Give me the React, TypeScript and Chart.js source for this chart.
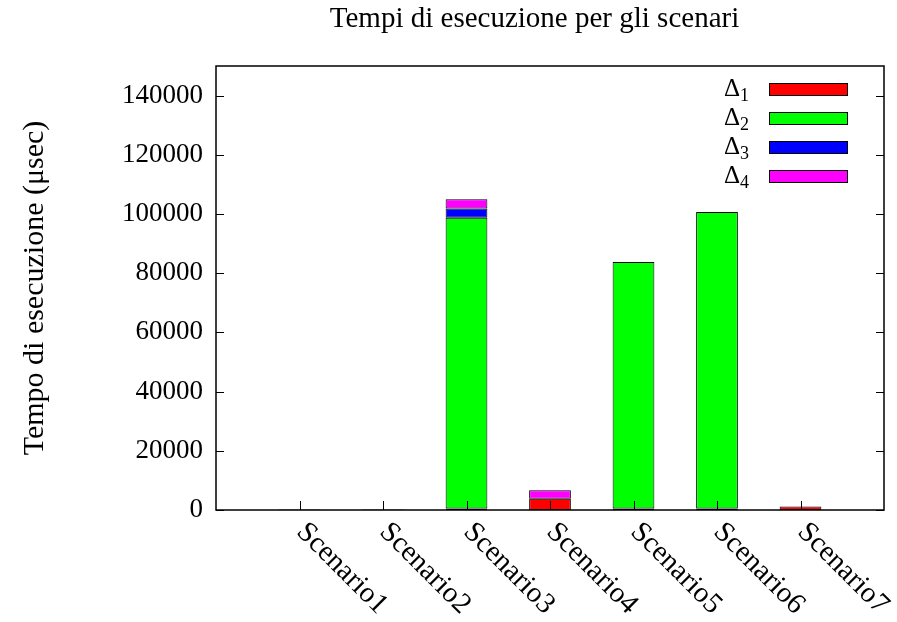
import React, { useEffect, useRef } from "react";
import { Chart, registerables } from "chart.js";

Chart.register(...registerables);

const categories = ["Scenario1", "Scenario2", "Scenario3", "Scenario4", "Scenario5", "Scenario6", "Scenario7"];
const delta1 = [200, 200, 500, 3800, 500, 500, 1200];
const delta2 = [0, 0, 98200, 0, 83300, 100200, 0];
const delta3 = [0, 0, 3200, 0, 0, 0, 0];
const delta4 = [0, 0, 3100, 2900, 0, 0, 0];
const seriesLabels = ["Δ1", "Δ2", "Δ3", "Δ4"];
const seriesColors = ["#ff0000", "#00ff00", "#0000ff", "#ff00ff"];
const yTicks = [0, 20000, 40000, 60000, 80000, 100000, 120000, 140000];
const yMax = 150000;
const chartTitle = "Tempi di esecuzione per gli scenari";
const yTitle = "Tempo di esecuzione (μsec)";

const FONT = "'Liberation Serif', 'Times New Roman', serif";

const decorPlugin = {
  id: "decor",
  afterDraw(chart: any) {
    const { ctx, chartArea } = chart;
    const { left, right, top, bottom } = chartArea;
    const xs = chart.scales.x;
    const ys = chart.scales.y;
    ctx.save();
    // title
    ctx.fillStyle = "#000";
    ctx.font = `29px ${FONT}`;
    ctx.textAlign = "center";
    ctx.textBaseline = "alphabetic";
    ctx.fillText(chartTitle, 534.5, 27);

    // border
    ctx.strokeStyle = "#000";
    ctx.lineWidth = 1.5;
    ctx.strokeRect(left, top, right - left, bottom - top);

    // y ticks (inward, mirrored)
    ctx.lineWidth = 1;
    ys.ticks.forEach((t: any) => {
      const y = Math.round(ys.getPixelForValue(t.value)) + 0.5;
      ctx.beginPath();
      ctx.moveTo(left, y);
      ctx.lineTo(left + 8, y);
      ctx.moveTo(right, y);
      ctx.lineTo(right - 8, y);
      ctx.stroke();
    });

    // x ticks and rotated labels
    ctx.font = `29px ${FONT}`;
    ctx.textAlign = "left";
    ctx.textBaseline = "alphabetic";
    categories.forEach((c, i) => {
      const x = Math.round(xs.getPixelForValue(i + 1)) + 0.5;
      ctx.beginPath();
      ctx.moveTo(x, bottom);
      ctx.lineTo(x, bottom - 9);
      ctx.stroke();
      ctx.save();
      ctx.translate(x - 5, bottom + 23);
      ctx.rotate(Math.PI / 4);
      ctx.fillText(c, 0, 0);
      ctx.restore();
    });

    // legend
    chart.data.datasets.forEach((ds: any, i: number) => {
      const cy = 89.5 + i * 29;
      const label: string = ds.label;
      const main = label.slice(0, 1);
      const sub = label.slice(1);
      ctx.textAlign = "right";
      ctx.font = `18px ${FONT}`;
      const subW = ctx.measureText(sub).width;
      ctx.fillText(sub, 749, cy + 11);
      ctx.font = `25px ${FONT}`;
      ctx.fillText(main, 749 - subW, cy + 6);
      ctx.fillStyle = ds.backgroundColor;
      ctx.fillRect(769, cy - 6.5, 79, 13);
      ctx.strokeStyle = "#000";
      ctx.lineWidth = 1;
      ctx.strokeRect(769.5, cy - 6, 78, 12);
      ctx.fillStyle = "#000";
    });
    ctx.restore();
  },
};

export default function App() {
  const ref = useRef<HTMLCanvasElement>(null);
  useEffect(() => {
    document.body.style.margin = "0";
    const labels = ["", ...categories, ""];
    const series = [delta1, delta2, delta3, delta4];
    const chart = new Chart(ref.current as HTMLCanvasElement, {
      type: "bar",
      data: {
        labels,
        datasets: series.map((s, i) => ({
          label: seriesLabels[i],
          data: [null, ...s, null],
          backgroundColor: seriesColors[i],
          borderColor: "#000",
          borderWidth: 1,
          borderSkipped: false,
          barPercentage: 0.5,
          categoryPercentage: 1,
        })),
      },
      options: {
        animation: false,
        responsive: false,
        devicePixelRatio: 1,
        layout: { padding: { left: 0, right: 13, top: 66, bottom: 0 } },
        plugins: { legend: { display: false }, tooltip: { enabled: false }, title: { display: false } },
        scales: {
          x: {
            type: "category",
            offset: false,
            stacked: true,
            grid: { display: false, drawTicks: false },
            border: { display: false },
            ticks: { display: false },
            afterFit: (s: any) => {
              s.height = 112;
            },
          },
          y: {
            stacked: true,
            min: 0,
            max: yMax,
            grid: { display: false, drawTicks: false },
            border: { display: false },
            afterBuildTicks: (s: any) => {
              s.ticks = yTicks.map((v) => ({ value: v }));
            },
            ticks: {
              padding: 13,
              color: "#000",
              font: { family: FONT, size: 27 },
              callback: (v: any) => String(v),
            },
            title: {
              display: true,
              text: yTitle,
              color: "#000",
              font: { family: FONT, size: 30 },
              padding: { top: 17, bottom: 0 },
            },
            afterFit: (s: any) => {
              s.width = 216;
            },
          },
        },
      },
      plugins: [decorPlugin],
    } as any);
    return () => chart.destroy();
  }, []);
  return (
    <div style={{ width: 897, height: 622, background: "#fff" }}>
      <canvas ref={ref} width={897} height={622} />
    </div>
  );
}
